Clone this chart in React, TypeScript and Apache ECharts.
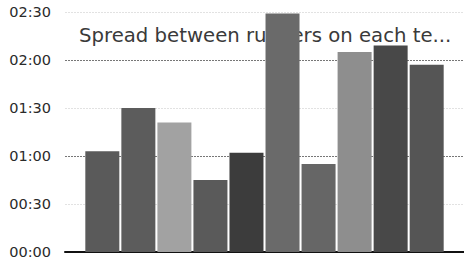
import React, { useEffect, useRef } from "react";
import * as echarts from "echarts";

const teams = ["Team 1", "Team 2", "Team 3", "Team 4", "Team 5", "Team 6", "Team 7", "Team 8", "Team 9", "Team 10"];
// spread in minutes
const spreads = [63, 90, 81, 45, 62, 149, 55, 125, 129, 117];
const barColors = ["#5a5a5a", "#5c5c5c", "#a2a2a2", "#5a5a5a", "#3c3c3c", "#6a6a6a", "#666666", "#8e8e8e", "#484848", "#555555"];
const titleText = "Spread between runners on each te...";

const fmt = (v: number) => {
  const h = Math.floor(v / 60);
  const m = Math.round(v % 60);
  return String(h).padStart(2, "0") + ":" + String(m).padStart(2, "0");
};

export default function App() {
  const ref = useRef<HTMLDivElement>(null);
  useEffect(() => {
    if (!ref.current) return;
    const chart = echarts.init(ref.current, null, { renderer: "svg" });
    chart.setOption({
      animation: false,
      backgroundColor: "#ffffff",
      title: {
        text: titleText,
        left: 74,
        top: 20,
        z: 1,
        textStyle: { fontFamily: "DejaVu Sans", fontSize: 19.7, fontWeight: "normal", color: "#3a3a3a" },
      },
      grid: { left: 65, right: 0, top: 12, bottom: 13, containLabel: false },
      xAxis: {
        type: "category",
        data: ["all"],
        axisLine: { show: true, lineStyle: { color: "#111", width: 2 } },
        axisTick: { show: false },
        axisLabel: { show: false },
      },
      yAxis: {
        type: "value",
        min: 0,
        max: 150,
        interval: 30,
        axisLine: { show: false },
        axisTick: { show: false },
        axisLabel: {
          formatter: (v: number) => fmt(v),
          fontFamily: "DejaVu Sans",
          fontSize: 14.5,
          color: "#2a2a2a",
          margin: 14,
        },
        splitLine: {
          show: true,
          lineStyle: { type: [2, 1], color: ["#777", "#e2e2e2"], width: 1 },
        },
      },
      series: teams.map((t, i) => ({
        type: "bar",
        name: t,
        z: 2,
        barWidth: 34,
        barGap: "6%",
        itemStyle: { color: barColors[i] },
        data: [spreads[i]],
      })),
    });
    return () => chart.dispose();
  }, []);
  return <div ref={ref} style={{ position: "fixed", left: 0, top: 0, width: 464, height: 265 }} />;
}
